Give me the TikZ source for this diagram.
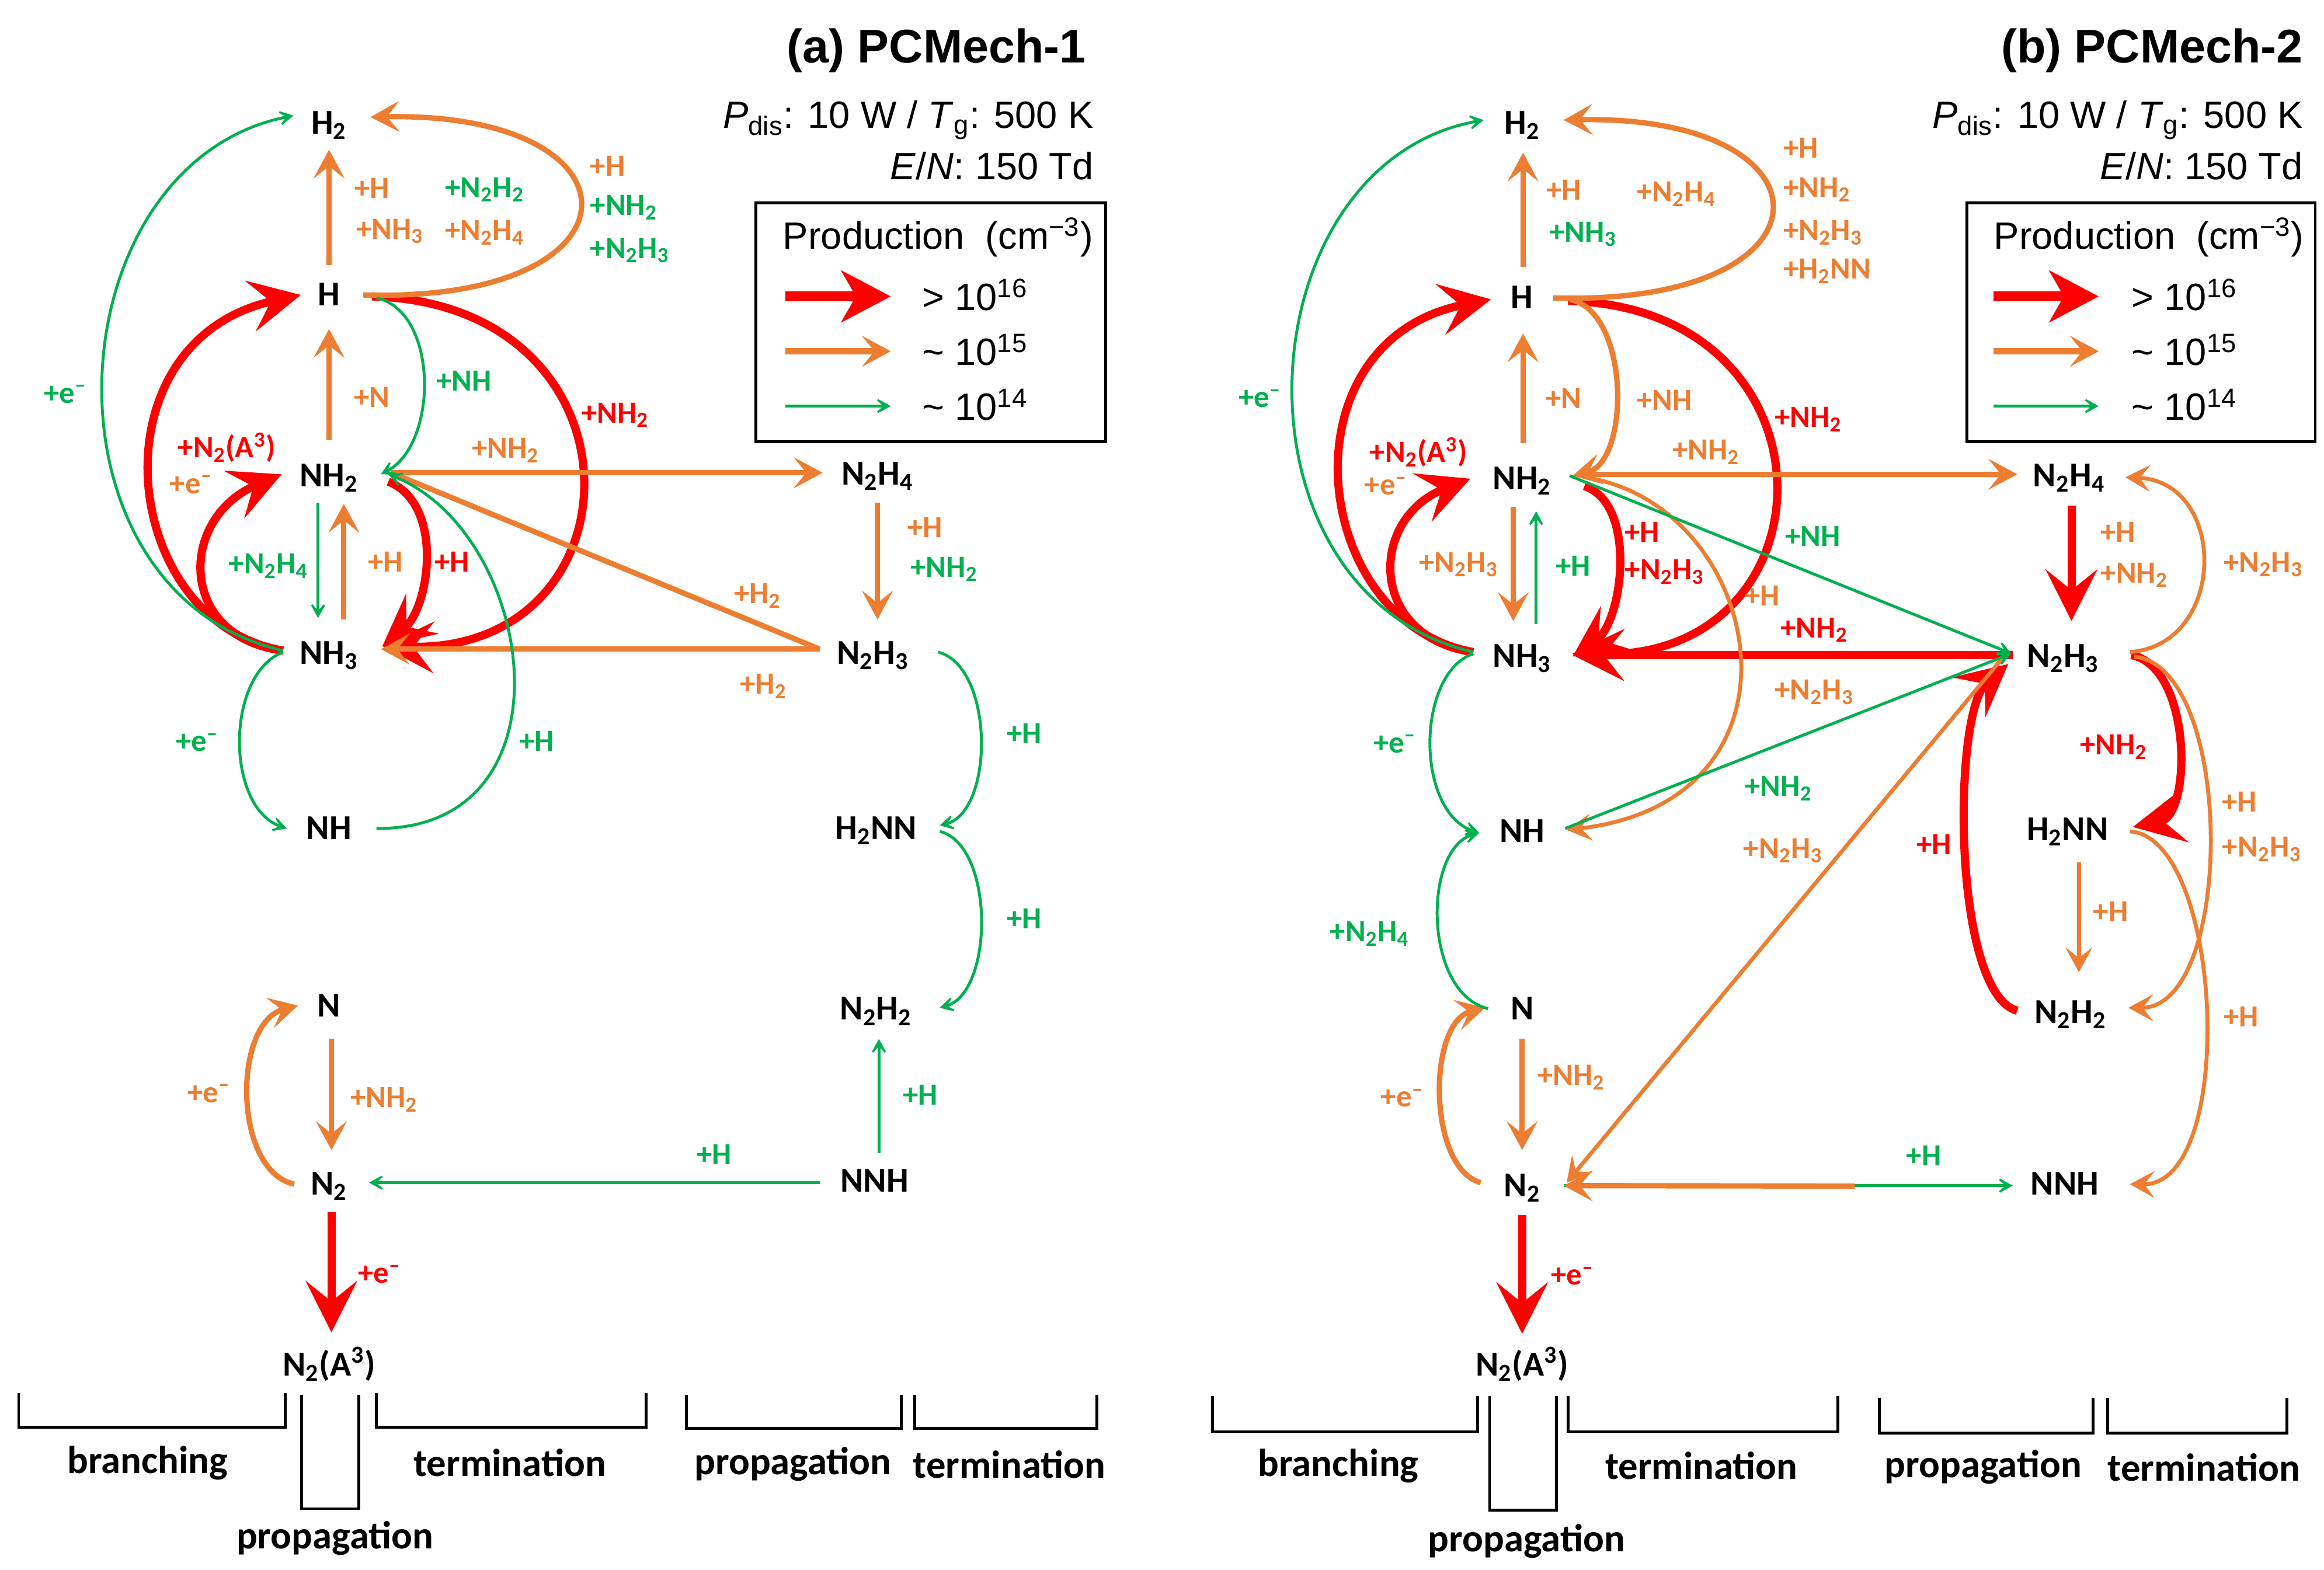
\documentclass[tikz,border=0pt]{standalone}
\usepackage{fontspec}
\setmainfont{Carlito}
\newfontfamily\arialf{Liberation Sans}
\usetikzlibrary{arrows.meta,calc}
\definecolor{cred}{HTML}{FF0000}
\definecolor{corg}{HTML}{ED7D31}
\definecolor{cgrn}{HTML}{00B050}
\newcommand{\subs}[1]{\textsubscript{#1}}
\newcommand{\sups}[1]{\textsuperscript{#1}}
\newcommand{\elec}{e\textsuperscript{–}}
\begin{document}
\begin{tikzpicture}[x=0.02538cm,y=-0.02538cm,
  sp/.style={font=\bfseries\fontsize{17}{17}\selectfont, inner sep=0pt, text height=12pt, text depth=3pt},
  lbl/.style={font=\bfseries\fontsize{15}{15}\selectfont, inner sep=0pt},
  bot/.style={font=\bfseries\fontsize{19}{19}\selectfont, inner sep=0pt},
  redarr/.style={draw=cred, line width=4pt, -{Stealth[length=25pt,width=25pt,inset=10pt]}},
  orgarr/.style={draw=corg, line width=2.6pt, -{Stealth[length=14pt,width=15pt,inset=6pt]}},
  orgthin/.style={draw=corg, line width=1.9pt, -{Stealth[length=12pt,width=13pt,inset=5pt]}},
  grnarr/.style={draw=cgrn, line width=1.4pt, -{Stealth[length=10pt,width=11pt,inset=6.5pt]}},
  brk/.style={draw=black, line width=1.4pt},
  ttl/.style={font=\arialf\bfseries\fontsize{23}{23}\selectfont, inner sep=0pt, anchor=east},
  cond/.style={font=\arialf\fontsize{18.5}{18.5}\selectfont, inner sep=0pt, anchor=east},
  leg/.style={font=\arialf\fontsize{18.5}{18.5}\selectfont, inner sep=0pt, anchor=west}]
\useasboundingbox (0,0) rectangle (1568,1059);

% ================= PANEL A =================
\node[sp] (aH2) at (222,84) {H\subs{2}};
\node[sp] (aH) at (222,200) {H};
\node[sp] (aNH2) at (222,322) {NH\subs{2}};
\node[sp] (aNH3) at (222,442) {NH\subs{3}};
\node[sp] (aNH) at (222,560) {NH};
\node[sp] (aN) at (222,680) {N};
\node[sp] (aN2) at (222,800) {N\subs{2}};
\node[sp] (aN2A) at (222,922) {N\subs{2}(A\sups{3})};
\node[sp] (aN2H4) at (592,321) {N\subs{2}H\subs{4}};
\node[sp] (aN2H3) at (589,442) {N\subs{2}H\subs{3}};
\node[sp] (aH2NN) at (591,560) {H\subs{2}NN};
\node[sp] (aN2H2) at (591,682) {N\subs{2}H\subs{2}};
\node[sp] (aNNH) at (590,798) {NNH};

% red
\draw[redarr] ($(aNH3)+(-31,-3)$) .. controls (80,420) and (61,230) .. ($(aH)+(-19,-1)$);
\draw[redarr] ($(aNH3)+(-31,-3)$) .. controls (120,430) and (120,350) .. ($(aNH2)+(-32,-2)$);
\draw[redarr] ($(aH)+(29,0)$) .. controls (440,205) and (435,440) .. ($(aNH3)+(36,-6)$);
\draw[redarr] ($(aNH2)+(40,3)$) .. controls (300,340) and (290,410) .. ($(aNH3)+(36,-6)$);
\draw[redarr] ($(aN2)+(1.6,18)$) -- ($(aN2A)+(1.6,-23)$);
% orange
\draw[orgarr] ($(aH)+(0,-21)$) -- ($(aH2)+(0,17)$);
\draw[orgarr] ($(aH)+(23,-1)$) .. controls (439,205) and (439,75) .. ($(aH2)+(28,-5)$);
\draw[orgarr] ($(aNH2)+(0,-25)$) -- ($(aH)+(0,22)$);
\draw[orgarr] ($(aNH2)+(42,-3)$) -- ($(aN2H4)+(-37,-2)$);
\draw[draw=corg, line width=2.6pt] ($(aNH2)+(42,-3)$) -- ($(aN2H3)+(-36,-4)$);
\draw[orgarr] ($(aN2H3)+(-36,-4)$) -- ($(aNH3)+(35,-4)$);
\draw[orgarr] ($(aNH3)+(10,-24)$) -- ($(aNH2)+(10,18)$);
\draw[orgarr] ($(aN2H4)+(0,18)$) -- ($(aN2H3)+(3,-24)$);
\draw[orgarr] ($(aN)+(1.6,21)$) -- ($(aN2)+(1.6,-24)$);
\draw[orgarr] ($(aN2)+(-23.5,-1)$) .. controls (157,790) and (157,690) .. ($(aN)+(-21,-1.5)$);
% green
\draw[grnarr] ($(aNH3)+(-31,-3)$) .. controls (20,400) and (35,110) .. ($(aH2)+(-24,-6)$);
\draw[grnarr] ($(aH)+(32,1)$) .. controls (296,210) and (296,300) .. ($(aNH2)+(35,-2)$);
\draw[grnarr] ($(aNH2)+(-7.4,17)$) -- ($(aNH3)+(-7.4,-25)$);
\draw[grnarr] ($(aNH)+(32,-1)$) .. controls (390,560) and (362,360) .. ($(aNH2)+(40,-2)$);
\draw[grnarr] ($(aNH3)+(-31,-2)$) .. controls (152,455) and (152,545) .. ($(aNH)+(-28.5,-1)$);
\draw[grnarr] ($(aN2H3)+(44,-2)$) .. controls (671,450) and (671,548) .. ($(aH2NN)+(43,-3)$);
\draw[grnarr] ($(aH2NN)+(43,1)$) .. controls (671,570) and (671,670) .. ($(aN2H2)+(43,-2)$);
\draw[grnarr] ($(aNNH)+(3,-20)$) -- ($(aN2H2)+(2,19)$);
\draw[grnarr] ($(aNNH)+(-37,0)$) -- ($(aN2)+(27,-2)$);

% labels a
\node[lbl,text=corg] (la1) at (251,127) {+H};
\node[lbl,text=corg] (la2) at (263,156) {+NH\subs{3}};
\node[lbl,text=cgrn] (la3) at (327,128) {+N\subs{2}H\subs{2}};
\node[lbl,text=corg] (la4) at (327,157) {+N\subs{2}H\subs{4}};
\node[lbl,text=corg,anchor=west] (la5) at (398,112) {+H};
\node[lbl,text=cgrn,anchor=west] (la6) at (398,140) {+NH\subs{2}};
\node[lbl,text=cgrn,anchor=west] (la7) at (398,169) {+N\subs{2}H\subs{3}};
\node[lbl,text=cgrn] (la8) at (44,266) {+\elec};
\node[lbl,text=cred] (la9) at (153,302) {+N\subs{2}(A\sups{3})};
\node[lbl,text=corg] (la10) at (129,327) {+\elec};
\node[lbl,text=corg] (la11) at (251,268) {+N};
\node[lbl,text=cgrn] (la12) at (313,257) {+NH};
\node[lbl,text=cred] (la13) at (415,280) {+NH\subs{2}};
\node[lbl,text=corg] (la14) at (341,304) {+NH\subs{2}};
\node[lbl,text=cgrn] (la15) at (181,382) {+N\subs{2}H\subs{4}};
\node[lbl,text=corg] (la16) at (260,379) {+H};
\node[lbl,text=cred] (la17) at (305,379) {+H};
\node[lbl,text=corg] (la18) at (511,402) {+H\subs{2}};
\node[lbl,text=corg] (la19) at (515,463) {+H\subs{2}};
\node[lbl,text=cgrn] (la20) at (133,501) {+\elec};
\node[lbl,text=cgrn] (la21) at (362,500) {+H};
\node[lbl,text=corg] (la22) at (624,356) {+H};
\node[lbl,text=cgrn] (la23) at (637,384) {+NH\subs{2}};
\node[lbl,text=cgrn] (la24) at (691,495) {+H};
\node[lbl,text=cgrn] (la25) at (691,620) {+H};
\node[lbl,text=corg] (la26) at (141,738) {+\elec};
\node[lbl,text=corg] (la27) at (259,742) {+NH\subs{2}};
\node[lbl,text=cgrn] (la28) at (482,779) {+H};
\node[lbl,text=cgrn] (la29) at (621,739) {+H};
\node[lbl,text=cred] (la30) at (256,860) {+\elec};

% title / legend a
\node[ttl] (ta) at (733,34) {(a) PCMech-1};
\node[cond] (pa) at (738,81) {\textit{P}\subs{dis}: 10 W / \textit{T}\subs{g}: 500 K};
\node[cond] (ea) at (738,112) {\textit{E}/\textit{N}: 150 Td};
\draw[line width=1.3pt] (510,137) rectangle (746,298);
\node[leg] (pra) at (528,160) {Production~ (cm\sups{−3})};
\coordinate (ra1) at (530,200); \coordinate (ra2) at (601,200);
\coordinate (oa1) at (530,237); \coordinate (oa2) at (601,237);
\coordinate (ga1) at (530,274); \coordinate (ga2) at (601,274);
\draw[draw=cred, line width=5pt, -{Stealth[length=24pt,width=25pt,inset=7pt]}] (ra1) -- (ra2);
\draw[draw=corg, line width=3pt, -{Stealth[length=14pt,width=15pt,inset=6pt]}] (oa1) -- (oa2);
\draw[grnarr] (ga1) -- (ga2);
\node[leg] (la_r) at (622,199) {> 10\sups{16}};
\node[leg] (la_o) at (622,236) {\textasciitilde{} 10\sups{15}};
\node[leg] (la_g) at (622,273) {\textasciitilde{} 10\sups{14}};

% brackets a
\draw[brk] (12.6,940) -- (12.6,963) -- (192.5,963) -- (192.5,940);
\draw[brk] (203.5,941) -- (203.5,1018) -- (242,1018) -- (242,941);
\draw[brk] (253.8,940) -- (253.8,963) -- (436,963) -- (436,940);
\draw[brk] (463,941) -- (463,964) -- (608,964) -- (608,941);
\draw[brk] (617,941) -- (617,964) -- (740,964) -- (740,941);
\node[bot] (ba1) at (99.5,987) {branching};
\node[bot] (ba2) at (226,1038) {propagation};
\node[bot] (ba3) at (344,987) {termination};
\node[bot] (ba4) at (535,988) {propagation};
\node[bot] (ba5) at (681,988) {termination};

% ================= PANEL B =================
\node[sp] (bH2) at (1027,84) {H\subs{2}};
\node[sp] (bH) at (1027,202) {H};
\node[sp] (bNH2) at (1027,324) {NH\subs{2}};
\node[sp] (bNH3) at (1027,444) {NH\subs{3}};
\node[sp] (bNH) at (1027,562) {NH};
\node[sp] (bN) at (1027,682) {N};
\node[sp] (bN2) at (1027,801) {N\subs{2}};
\node[sp] (bN2A) at (1027,922) {N\subs{2}(A\sups{3})};
\node[sp] (bN2H4) at (1396,322) {N\subs{2}H\subs{4}};
\node[sp] (bN2H3) at (1392,444) {N\subs{2}H\subs{3}};
\node[sp] (bH2NN) at (1395,561) {H\subs{2}NN};
\node[sp] (bN2H2) at (1397,684) {N\subs{2}H\subs{2}};
\node[sp] (bNNH) at (1393,800) {NNH};
\coordinate (bmid) at (1251.5,800.3);

% red
\draw[redarr] ($(bNH3)+(-33,-4)$) .. controls (883,420) and (864,230) .. ($(bH)+(-21,0)$);
\draw[redarr] ($(bNH3)+(-33,-4)$) .. controls (923,430) and (923,350) .. ($(bNH2)+(-35,-1)$);
\draw[redarr] ($(bH)+(31,1)$) .. controls (1245,208) and (1240,445) .. ($(bNH3)+(34,-3)$);
\draw[redarr] ($(bNH2)+(42,4)$) .. controls (1105,340) and (1095,420) .. ($(bNH3)+(34,-1)$);
\draw[redarr] ($(bN2H3)+(-34,-2)$) -- ($(bNH3)+(34,-2)$);
\draw[redarr] ($(bN2H4)+(1.6,19)$) -- ($(bN2H3)+(5.6,-25)$);
\draw[redarr] ($(bN2H3)+(46,-2)$) .. controls (1479,450) and (1479,550) .. ($(bH2NN)+(44,-3)$);
\draw[redarr] ($(bN2H2)+(-36,-2)$) .. controls (1317,670) and (1317,480) .. ($(bN2H3)+(-37,4)$);
\draw[redarr] ($(bN2)+(0,19)$) -- ($(bN2A)+(0,-22)$);
\draw[grnarr] ($(bN2)+(28,-1)$) -- ($(bNNH)+(-35,0)$);
% orange
\draw[orgarr] ($(bH)+(0.6,-22)$) -- ($(bH2)+(0.6,19)$);
\draw[orgarr] ($(bH)+(21,-1)$) .. controls (1243,207) and (1243,77) .. ($(bH2)+(28,-3)$);
\draw[orgarr] ($(bNH2)+(0.6,-25)$) -- ($(bH)+(0.6,23)$);
\draw[orgarr] ($(bH)+(32,0)$) .. controls (1100,210) and (1100,312) .. ($(bNH2)+(34,-3)$);
\draw[orgarr] ($(bNH2)+(42,-4)$) -- ($(bN2H4)+(-35,-2)$);
\draw[orgarr] ($(bNH2)+(-6,18)$) -- ($(bNH3)+(-6,-25)$);
\draw[orgthin] ($(bNH2)+(42,-2)$) .. controls (1190,340) and (1230,540) .. ($(bNH)+(30,-2)$);
\draw[orgthin] ($(bN2H3)+(-41,0)$) -- ($(bN2)+(30,-3)$);
\draw[orgarr] ($(bN)+(0,19)$) -- ($(bN2)+(0,-25)$);
\draw[orgarr] ($(bN2)+(-28,-3)$) .. controls (963,788) and (963,690) .. ($(bN)+(-25,-2)$);
\draw[orgarr] (bmid) -- ($(bN2)+(28,-1)$);
\draw[orgthin] ($(bN2H3)+(45,-4)$) .. controls (1503,435) and (1503,325) .. ($(bN2H4)+(38,0)$);
\draw[orgthin] ($(bN2H3)+(48,-1)$) .. controls (1508,450) and (1508,680) .. ($(bN2H2)+(39,-4)$);
\draw[orgthin] ($(bH2NN)+(42,0)$) .. controls (1500,565) and (1510,800) .. ($(bNNH)+(44,-1)$);
\draw[orgthin] ($(bH2NN)+(7.6,21)$) -- ($(bN2H2)+(5.6,-28)$);
% green
\draw[grnarr] ($(bNH3)+(-33,-4)$) .. controls (823,400) and (838,110) .. ($(bH2)+(-26,-3)$);
\draw[grnarr] ($(bNH3)+(9.4,-23)$) -- ($(bNH2)+(9.4,21)$);
\draw[grnarr] ($(bNH2)+(32,-3)$) -- ($(bN2H3)+(-35,-3)$);
\draw[grnarr] ($(bNH)+(29,-3)$) -- ($(bN2H3)+(-35,-3)$);
\draw[grnarr] ($(bNH3)+(-33,-3)$) .. controls (955,455) and (955,548) .. ($(bNH)+(-29,0)$);
\draw[grnarr] ($(bN)+(-23,-1.4)$) .. controls (960,670) and (960,572) .. ($(bNH)+(-29,0)$);

% labels b
\node[lbl,text=corg] (lb1) at (1055,128) {+H};
\node[lbl,text=cgrn] (lb2) at (1068,158) {+NH\subs{3}};
\node[lbl,text=corg] (lb3) at (1131,131) {+N\subs{2}H\subs{4}};
\node[lbl,text=corg,anchor=west] (lb4) at (1203,100) {+H};
\node[lbl,text=corg,anchor=west] (lb5) at (1203,128) {+NH\subs{2}};
\node[lbl,text=corg,anchor=west] (lb6) at (1203,157) {+N\subs{2}H\subs{3}};
\node[lbl,text=corg,anchor=west] (lb7) at (1203,183) {+H\subs{2}NN};
\node[lbl,text=cgrn] (lb8) at (850,269) {+\elec};
\node[lbl,text=cred] (lb9) at (957,305) {+N\subs{2}(A\sups{3})};
\node[lbl,text=corg] (lb10) at (935,328) {+\elec};
\node[lbl,text=corg] (lb11) at (1055,269) {+N};
\node[lbl,text=corg] (lb12) at (1123,270) {+NH};
\node[lbl,text=corg] (lb13) at (1151,305) {+NH\subs{2}};
\node[lbl,text=cred] (lb14) at (1220,283) {+NH\subs{2}};
\node[lbl,text=corg] (lb15) at (984,381) {+N\subs{2}H\subs{3}};
\node[lbl,text=cgrn] (lb16) at (1061.5,382) {+H};
\node[lbl,text=cred] (lb17) at (1108,359) {+H};
\node[lbl,text=cred] (lb18) at (1123,386) {+N\subs{2}H\subs{3}};
\node[lbl,text=cgrn] (lb19) at (1223,362) {+NH};
\node[lbl,text=corg] (lb20) at (1189,402) {+H};
\node[lbl,text=cred] (lb21) at (1224,425) {+NH\subs{2}};
\node[lbl,text=corg] (lb22) at (1224,467) {+N\subs{2}H\subs{3}};
\node[lbl,text=cgrn] (lb23) at (941,502) {+\elec};
\node[lbl,text=cgrn] (lb24) at (1200,532) {+NH\subs{2}};
\node[lbl,text=corg] (lb25) at (1203,574) {+N\subs{2}H\subs{3}};
\node[lbl,text=cred] (lb26) at (1305,570) {+H};
\node[lbl,text=corg] (lb27) at (1429,359) {+H};
\node[lbl,text=corg] (lb28) at (1440,388) {+NH\subs{2}};
\node[lbl,text=corg] (lb29) at (1527,381) {+N\subs{2}H\subs{3}};
\node[lbl,text=cred] (lb30) at (1426,504) {+NH\subs{2}};
\node[lbl,text=corg] (lb31) at (1511,541) {+H};
\node[lbl,text=corg] (lb32) at (1526,573) {+N\subs{2}H\subs{3}};
\node[lbl,text=corg] (lb33) at (1424,615) {+H};
\node[lbl,text=corg] (lb34) at (1512,686) {+H};
\node[lbl,text=cgrn] (lb35) at (924,630) {+N\subs{2}H\subs{4}};
\node[lbl,text=corg] (lb36) at (946,741) {+\elec};
\node[lbl,text=corg] (lb37) at (1060,727) {+NH\subs{2}};
\node[lbl,text=cgrn] (lb38) at (1298,780) {+H};
\node[lbl,text=cred] (lb39) at (1061,861) {+\elec};

% title / legend b
\node[ttl] (tb) at (1554,34) {(b) PCMech-2};
\node[cond] (pb) at (1554,81) {\textit{P}\subs{dis}: 10 W / \textit{T}\subs{g}: 500 K};
\node[cond] (eb) at (1554,112) {\textit{E}/\textit{N}: 150 Td};
\draw[line width=1.3pt] (1327,137) rectangle (1562,298);
\node[leg] (prb) at (1345,160) {Production~ (cm\sups{−3})};
\coordinate (rb1) at (1345,200); \coordinate (rb2) at (1416,200);
\coordinate (ob1) at (1345,237); \coordinate (ob2) at (1416,237);
\coordinate (gb1) at (1345,274); \coordinate (gb2) at (1416,274);
\draw[draw=cred, line width=5pt, -{Stealth[length=24pt,width=25pt,inset=7pt]}] (rb1) -- (rb2);
\draw[draw=corg, line width=3pt, -{Stealth[length=14pt,width=15pt,inset=6pt]}] (ob1) -- (ob2);
\draw[grnarr] (gb1) -- (gb2);
\node[leg] (lb_r) at (1438,199) {> 10\sups{16}};
\node[leg] (lb_o) at (1438,236) {\textasciitilde{} 10\sups{15}};
\node[leg] (lb_g) at (1438,273) {\textasciitilde{} 10\sups{14}};

% brackets b
\draw[brk] (818,942) -- (818,966) -- (997,966) -- (997,942);
\draw[brk] (1005,942) -- (1005,1019) -- (1050,1019) -- (1050,942);
\draw[brk] (1058,942) -- (1058,966) -- (1240,966) -- (1240,942);
\draw[brk] (1268,943) -- (1268,967) -- (1412,967) -- (1412,943);
\draw[brk] (1422,943) -- (1422,967) -- (1543,967) -- (1543,943);
\node[bot] (bb1) at (903,989) {branching};
\node[bot] (bb2) at (1030,1040) {propagation};
\node[bot] (bb3) at (1148,989) {termination};
\node[bot] (bb4) at (1338,990) {propagation};
\node[bot] (bb5) at (1487,990) {termination};
\end{tikzpicture}
\end{document}
